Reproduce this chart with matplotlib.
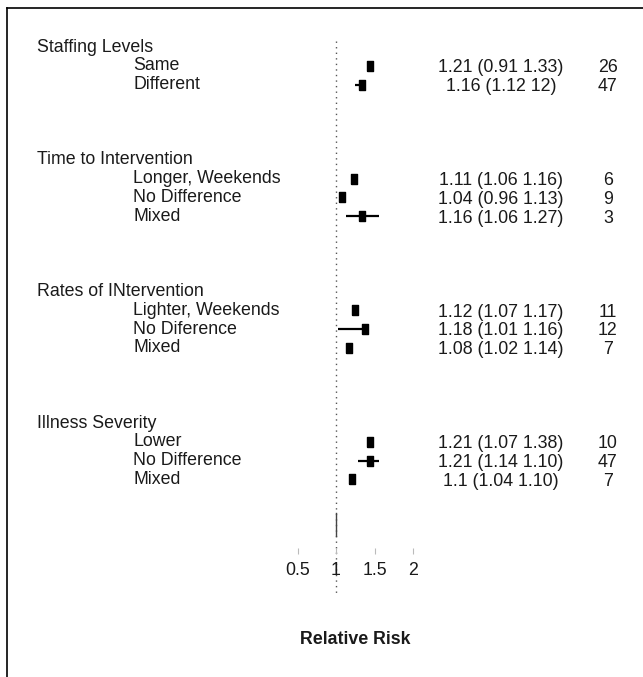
import matplotlib
matplotlib.use("Agg")
import matplotlib.pyplot as plt
import matplotlib.transforms as mtransforms
from matplotlib.lines import Line2D
import numpy as np

plt.rcParams["font.family"] = ["Liberation Sans", "DejaVu Sans"]

# Subgroups and their rows in the forest plot
groups = ["Staffing Levels", "Time to Intervention",
          "Rates of INtervention", "Illness Severity"]
group_rows = [0, 6, 13, 20]
subgroups = ["Same", "Different",
             "Longer, Weekends", "No Difference", "Mixed",
             "Lighter, Weekends", "No Diference", "Mixed",
             "Lower", "No Difference", "Mixed"]
sub_rows = [1, 2, 7, 8, 9, 14, 15, 16, 21, 22, 23]

# Relative risk estimates and the whiskers that are drawn
rr = [1.21, 1.16, 1.11, 1.04, 1.16, 1.12, 1.18, 1.08, 1.21, 1.21, 1.1]
ci_lo = [np.nan, 1.12, np.nan, np.nan, 1.06, np.nan, 1.01, np.nan, np.nan, 1.14, np.nan]
ci_hi = [np.nan, 1.19, np.nan, np.nan, 1.27, np.nan, 1.16, np.nan, np.nan, 1.27, np.nan]
rr_text = ["1.21 (0.91 1.33)", "1.16 (1.12 12)",
           "1.11 (1.06 1.16)", "1.04 (0.96 1.13)", "1.16 (1.06 1.27)",
           "1.12 (1.07 1.17)", "1.18 (1.01 1.16)", "1.08 (1.02 1.14)",
           "1.21 (1.07 1.38)", "1.21 (1.14 1.10)", "1.1 (1.04 1.10)"]
n_studies = [26, 47, 6, 9, 3, 11, 12, 7, 10, 47, 7]

scale_ticks = [0.5, 1, 1.5, 2]

fig = plt.figure(figsize=(6.43, 6.77), dpi=100)
ax = fig.add_axes([0, 0, 1, 1])
ax.set_xlim(-1.1, 2.919)
ax.set_ylim(33.51, -2.5)
ax.axis("off")

fs = 12.8
ink = "#1a1a1a"
xfig = mtransforms.blended_transform_factory(ax.transAxes, ax.transData)

for name, r in zip(groups, group_rows):
    ax.text(0.0575, r, name, transform=xfig, ha="left", va="center",
            fontsize=fs, color=ink)

for i, r in enumerate(sub_rows):
    ax.text(0.207, r, subgroups[i], transform=xfig, ha="left", va="center",
            fontsize=fs, color=ink)
    ax.text(0.779, r + 0.1, rr_text[i], transform=xfig, ha="center",
            va="center", fontsize=fs, color=ink)
    ax.text(0.9455, r + 0.1, str(n_studies[i]), transform=xfig, ha="center",
            va="center", fontsize=fs, color=ink)

# line of no effect
ax.plot([1, 1], [-0.3, 29.1], color="#555555", lw=1,
        linestyle=(0, (1, 3)))
ax.plot([1, 1], [24.8, 26.0], color="#444444", lw=1)

# whiskers then rectangular point markers
ax.hlines(sub_rows, ci_lo, ci_hi, color="black", lw=1.6)
rect = [(-0.25, -0.5), (0.25, -0.5), (0.25, 0.5), (-0.25, 0.5), (-0.25, -0.5)]
ax.plot(rr, sub_rows, linestyle="none", marker=rect, markersize=7.5,
        color="black")

# scale bar under the plot
sx = fig.add_axes([250 / 643, 1 - 554 / 677, 200 / 643, 0.001])
sx.set_xlim(1 - 86 / 77, 1 + 114 / 77)
sx.set_ylim(0, 1)
for s in ["top", "left", "right", "bottom"]:
    sx.spines[s].set_visible(False)
sx.set_yticks([])
sx.set_xticks(scale_ticks)
sx.set_xticklabels(["0.5", "1", "1.5", "2"])
sx.tick_params(axis="x", direction="in", length=4.5, width=0.8,
               color="#bbbbbb", labelsize=fs, pad=6, labelcolor=ink)
sx.patch.set_visible(False)

fig.text(355 / 643, 1 - 640 / 677, "Relative Risk", ha="center", va="center",
         fontsize=fs, fontweight="bold", color=ink)

# outer frame (top and left edges)
fig.add_artist(Line2D([7 / 643, 1], [1 - 8 / 677, 1 - 8 / 677],
                      transform=fig.transFigure, color="black", lw=1.2))
fig.add_artist(Line2D([7 / 643, 7 / 643], [0, 1 - 8 / 677],
                      transform=fig.transFigure, color="black", lw=1.2))

fig.savefig("out.png", dpi=100)
